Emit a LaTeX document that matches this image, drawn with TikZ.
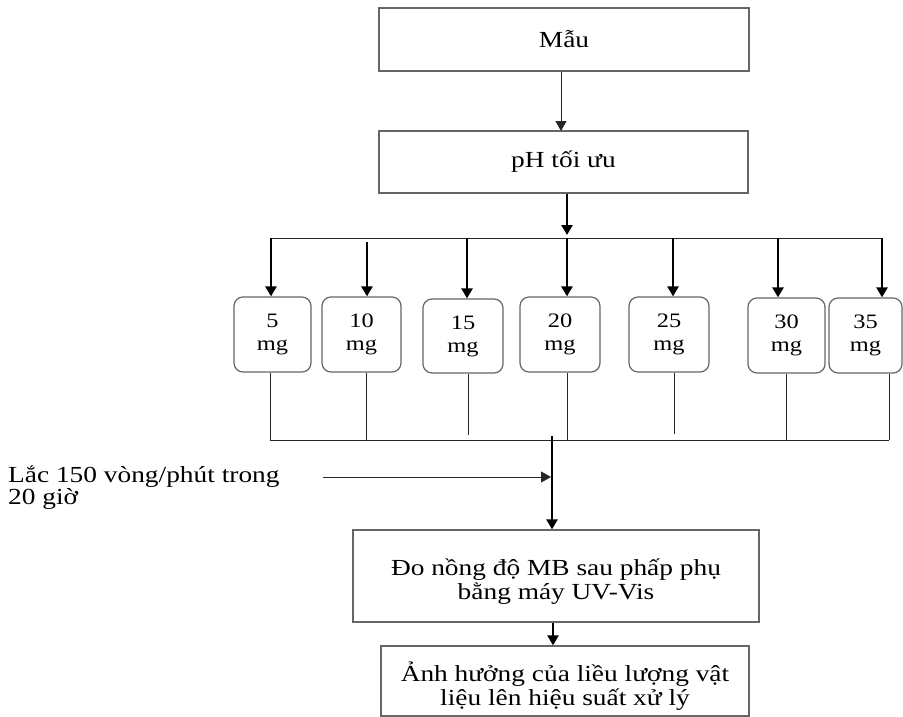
\documentclass[tikz,border=0pt]{standalone}
\usepackage{fontspec}
\setmainfont{Liberation Serif}[FakeStretch=1.19]
\usetikzlibrary{arrows.meta}
\begin{document}
\begin{tikzpicture}[x=1pt,y=-1pt,
  box/.style={draw=black!60,line width=1.3pt,inner sep=0pt,align=center,
    font=\fontsize{23}{24}\selectfont},
  mgbox/.style={draw=black!60,line width=1.2pt,rounded corners=9pt,inner sep=0pt,
    align=center,font=\fontsize{20.5}{23}\selectfont},
  thin/.style={draw=black!85,line width=1pt},
  thick/.style={draw=black,line width=2.4pt},
  tip/.style={-{Triangle[length=10pt,width=11pt]}},
  lbl/.style={inner sep=0pt,align=left,anchor=base west,font=\fontsize{23}{22}\selectfont}]
\useasboundingbox (0,0) rectangle (903,717);
% main boxes
\node[box,minimum width=370pt,minimum height=63pt] (mau) at (564,39.5) {Mẫu};
\node[box,minimum width=369pt,minimum height=62pt] (ph) at (563.5,162) {pH tối ưu};
\node[box,minimum width=406pt,minimum height=92pt] (do) at (556,576) {\rule{0pt}{28pt}Đo nồng độ MB sau phấp phụ\\bằng máy UV-Vis};
\node[box,minimum width=368pt,minimum height=70pt] (anh) at (565,681) {\rule{0pt}{29pt}Ảnh hưởng của liều lượng vật\\liệu lên hiệu suất xử lý};
% dose boxes
\node[mgbox,minimum width=77pt,minimum height=75pt] (b5)  at (272.5,334.5) {5\\mg};
\node[mgbox,minimum width=79pt,minimum height=75pt] (b10) at (361.5,334.5) {10\\mg};
\node[mgbox,minimum width=80pt,minimum height=74pt] (b15) at (463,336) {15\\mg};
\node[mgbox,minimum width=80pt,minimum height=75pt] (b20) at (560,334.5) {20\\mg};
\node[mgbox,minimum width=80pt,minimum height=75pt] (b25) at (669,334.5) {25\\mg};
\node[mgbox,minimum width=77pt,minimum height=75pt] (b30) at (786.5,335.5) {30\\mg};
\node[mgbox,minimum width=73pt,minimum height=75pt] (b35) at (865.5,335.5) {35\\mg};
% label
\node[lbl] (lac) at (8,504) {Lắc 150 vòng/phút trong\\20 giờ};
% coordinates
\coordinate (splitL) at (270,238);
\coordinate (splitR) at (882,238);
\coordinate (phend) at (567,235);
\coordinate (joinL) at (270,440);
\coordinate (joinR) at (889,440);
\coordinate (ctop) at (552,436);
\coordinate (lacS) at (323,477);
\coordinate (lacE) at (551,477);
% top arrows
\draw[thin,tip] (mau.south -| 561,0) -- (561,131);
\draw[thick,tip] (ph.south -| phend) -- (phend);
\draw[thin] (splitL) -- (splitR);
\draw[thick,tip] (271,238) -- (271,0 |- b5.north);
\draw[thick,tip] (367,242) -- (367,0 |- b10.north);
\draw[thick,tip] (467,238) -- (467,0 |- b15.north);
\draw[thick,tip] (567,238) -- (567,0 |- b20.north);
\draw[thick,tip] (673,238) -- (673,0 |- b25.north);
\draw[thick,tip] (778,238) -- (778,0 |- b30.north);
\draw[thick,tip] (882,238) -- (882,0 |- b35.north);
% bottom collector
\draw[thin] (b5.south -| 270,0) -- (270,440);
\draw[thin] (b10.south -| 366,0) -- (366,440);
\draw[thin] (b15.south -| 468,0) -- (468,435);
\draw[thin] (b20.south -| 567,0) -- (567,440);
\draw[thin] (b25.south -| 674,0) -- (674,434);
\draw[thin] (b30.south -| 786,0) -- (786,440);
\draw[thin] (b35.south -| 889,0) -- (889,440);
\draw[thin] (joinL) -- (joinR);
% central flow
\draw[thick,tip] (ctop) -- (do.north -| ctop);
\draw[thin,tip] (lacS) -- (lacE);
\draw[thick,tip] (do.south -| 553,0) -- (anh.north -| 553,0);
\end{tikzpicture}
\end{document}
